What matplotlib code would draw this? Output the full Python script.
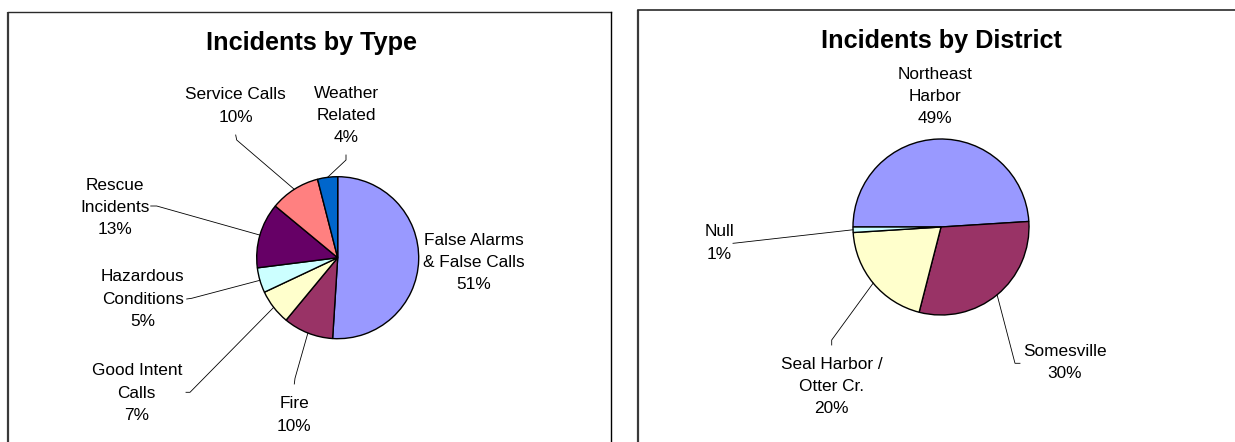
import matplotlib.pyplot as plt
import numpy as np

W, H = 1235, 442

# Incidents by type (percent), in slice order clockwise from 12 o'clock
type_names = [
    "False Alarms\n& False Calls",
    "Fire",
    "Good Intent\nCalls",
    "Hazardous\nConditions",
    "Rescue\nIncidents",
    "Service Calls",
    "Weather\nRelated",
]
type_pct = [51, 10, 7, 5, 13, 10, 4]
type_colors = ["#9999FF", "#993366", "#FFFFCC", "#CCFFFF", "#660066", "#FF8080", "#0066CC"]

# Incidents by district (percent), clockwise from 9 o'clock
district_names = ["Northeast\nHarbor", "Somesville", "Seal Harbor /\nOtter Cr.", "Null"]
district_pct = [49, 30, 20, 1]
district_colors = ["#9999FF", "#993366", "#FFFFCC", "#CCFFFF"]

# Layout, in pixels from the top-left corner of the image
type_layout = {
    "title": ("Incidents by Type", (311, 43)),
    "center": (337.7, 257.7),
    "radius": 81,
    "startangle": -90,
    "labels": [(474, 262.5), (294.3, 415), (136.7, 393), (142.7, 299),
               (115, 207.5), (235.7, 106), (346, 115.5)],
    # leader: start at label, elbow; the last point is the slice edge
    "leaders": [None, [(294.3, 384), (295, 378.3)], [(186, 392.3), (190, 392.3)],
                [(186.7, 299), (191.7, 298.3)], [(150.7, 206), (156.7, 206)],
                [(235.7, 135), (236.7, 140)], [(346, 155), (346, 160)]],
}
district_layout = {
    "title": ("Incidents by District", (941, 41)),
    "center": (941, 227),
    "radius": 88,
    "startangle": 180,
    "labels": [(935, 96.5), (1065, 362.5), (831.7, 386.5), (719, 243)],
    "leaders": [None, [(1020, 363.3), (1015, 363.3)], [(831.7, 345), (831.7, 340)],
                [(733, 243.3), (736, 243)]],
}

plt.rcParams["font.family"] = ["Liberation Sans", "DejaVu Sans"]


def draw_pie(ax, values, names, colors, layout):
    """Draw one Excel-style pie with outside labels and leader lines."""
    cx, cy = layout["center"]
    r = layout["radius"]
    # y axis is inverted, so counterclock=True runs clockwise on screen
    wedges, _ = ax.pie(
        values,
        colors=colors,
        startangle=layout["startangle"],
        counterclock=True,
        center=(cx, cy),
        radius=r,
        wedgeprops={"edgecolor": "black", "linewidth": 1.0},
    )

    for w, name, val, (lx, ly), leader in zip(
        wedges, names, values, layout["labels"], layout["leaders"]
    ):
        ax.text(lx, ly, f"{name}\n{val}%", ha="center", va="center",
                fontsize=12.4, linespacing=1.6, color="black")
        if leader is None:
            continue
        mid = np.deg2rad((w.theta1 + w.theta2) / 2)
        pts = leader + [(cx + r * np.cos(mid), cy + r * np.sin(mid))]
        xs, ys = zip(*pts)
        ax.plot(xs, ys, color="black", linewidth=0.6)

    text, (tx, ty) = layout["title"]
    ax.text(tx, ty, text, ha="center", va="center", fontsize=18.2,
            fontweight="bold", color="black")


fig = plt.figure(figsize=(W / 100, H / 100), dpi=100)
ax = fig.add_axes([0, 0, 1, 1])

draw_pie(ax, type_pct, type_names, type_colors, type_layout)
draw_pie(ax, district_pct, district_names, district_colors, district_layout)

# chart area frames (bottom and far right fall outside the image)
ax.plot([8, 8], [H + 5, 12], color="#3a3a3a", linewidth=1.6, solid_capstyle="butt")
ax.plot([8, 611], [12, 12], color="#2a2a2a", linewidth=1.0)
ax.plot([611, 611], [12, H + 5], color="black", linewidth=1.0)
ax.plot([637.5, 637.5], [H + 5, 10], color="#3a3a3a", linewidth=1.6, solid_capstyle="butt")
ax.plot([637.5, W + 5], [10, 10], color="#2a2a2a", linewidth=1.2)

ax.set_xlim(0, W)
ax.set_ylim(H, 0)
ax.set_aspect("equal")
ax.axis("off")

fig.savefig("out.png", dpi=100)
plt.close(fig)
